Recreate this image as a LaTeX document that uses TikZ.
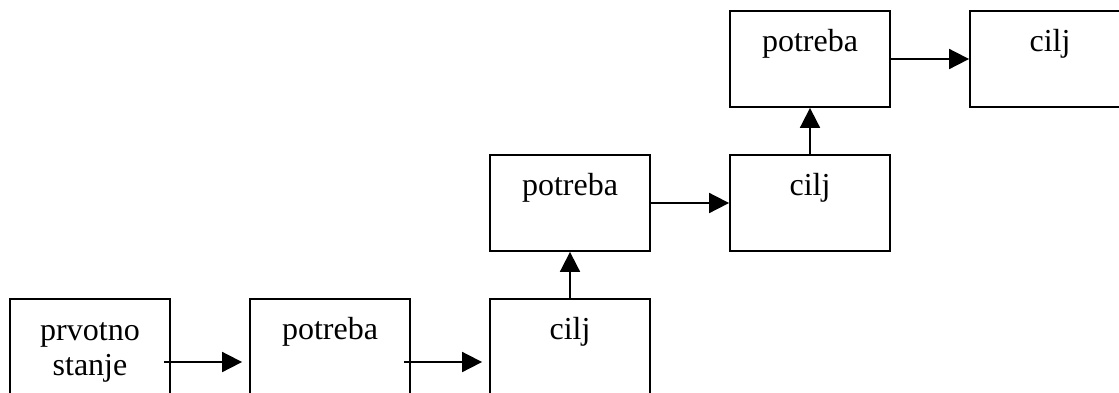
\documentclass[tikz,border=0pt]{standalone}
\usepackage{fontspec}
\setmainfont{Liberation Serif}
\usetikzlibrary{arrows.meta}
\begin{document}
\begin{tikzpicture}[x=1pt,y=-1pt,
  box/.style={draw=black,line width=1.8pt,minimum width=160pt,minimum height=96pt,inner sep=0pt},
  txt/.style={anchor=base,inner sep=0pt,align=center,font=\fontsize{32}{35}\selectfont},
  arr/.style={line width=1.8pt,-{Triangle[length=20pt,width=20pt]}}]
\useasboundingbox (0,0) rectangle (1119,392);
\clip (0,0) rectangle (1119,392);
% boxes
\node[box] (b1) at (90,347) {};
\node[box] (b2) at (330,347) {};
\node[box] (b3) at (570,347) {};
\node[box] (b4) at (570,203) {};
\node[box] (b5) at (810,203) {};
\node[box] (b6) at (810,59) {};
\node[box] (b7) at (1050,59) {};
% labels, set near the top of each box (two-line label anchored on its last line)
\node[txt] (t1) at ([yshift=-77pt]b1.north) {prvotno\\stanje};
\node[txt] (t2) at ([yshift=-41pt]b2.north) {potreba};
\node[txt] (t3) at ([yshift=-41pt]b3.north) {cilj};
\node[txt] (t4) at ([yshift=-41pt]b4.north) {potreba};
\node[txt] (t5) at ([yshift=-41pt]b5.north) {cilj};
\node[txt] (t6) at ([yshift=-41pt]b6.north) {potreba};
\node[txt] (t7) at ([yshift=-41pt]b7.north) {cilj};
% connectors
\draw[arr] ([shift={(-7pt,-15pt)}]b1.east) -- ([shift={(-7pt,-15pt)}]b2.west);
\draw[arr] ([shift={(-7pt,-15pt)}]b2.east) -- ([shift={(-7pt,-15pt)}]b3.west);
\draw[arr] (b3.north) -- (b4.south);
\draw[arr] (b4.east) -- (b5.west);
\draw[arr] (b5.north) -- (b6.south);
\draw[arr] (b6.east) -- (b7.west);
\end{tikzpicture}
\end{document}
